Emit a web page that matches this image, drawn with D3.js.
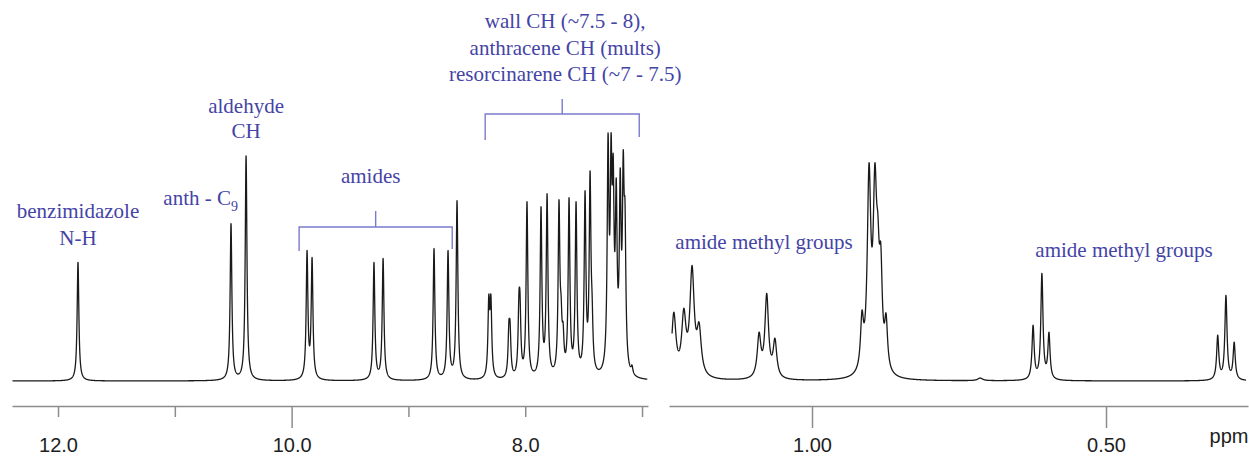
<!DOCTYPE html>
<html>
<head>
<meta charset="utf-8">
<script src="https://cdnjs.cloudflare.com/ajax/libs/d3/7.8.5/d3.min.js"></script>
<style>
  body { margin: 0; background: #fff; }
  svg { display: block; }
  .axis path, .axis line { stroke: #8c8c8c; stroke-width: 1.5; }
  .axis text { font-family: "Liberation Sans", Arial, sans-serif; font-size: 20px; fill: #1e1e1e; }
  .note { font-family: "Liberation Serif", "Times New Roman", serif; font-size: 21px; fill: #4444a6; }
  .bracket { fill: none; stroke: #7b7bcc; stroke-width: 1.4; }
  .spectrum { fill: none; stroke: #1a1a1a; stroke-width: 1.3; stroke-linejoin: round; }
</style>
</head>
<body>
<svg id="chart" width="1249" height="456"></svg>
<script>
// left window: NH / CHO / aromatic region (ppm, peak height in % of tallest line)
const LEFT_SHIFTS = [11.829, 10.519, 10.390, 9.868, 9.825, 9.295, 9.217, 8.781, 8.661, 8.584,
  8.312, 8.294, 8.140, 8.130, 8.054, 8.045, 7.985, 7.865, 7.813, 7.711, 7.693, 7.676,
  7.625, 7.565, 7.488, 7.445, 7.428, 7.291, 7.265, 7.247, 7.221, 7.187, 7.161, 7.146, 7.086];
const LEFT_HEIGHTS = [47.6, 63.2, 90.4, 52.4, 49.6, 47.6, 49.2, 53.2, 52.4, 72.4,
  34.8, 34.8, 24.0, 24.0, 35.6, 35.6, 72.0, 70.0, 75.2, 72.8, 34.4, 23.6,
  73.6, 72.0, 76.4, 84.4, 35.6, 99.6, 99.6, 91.2, 81.6, 85.6, 92.8, 72.4, 6.4];
const LEFT_LINEWIDTH = 0.0088;

// right window: methyl region
const RIGHT_SHIFTS = [1.235, 1.218, 1.204, 1.192, 1.090, 1.077, 1.063,
  0.915, 0.903, 0.893, 0.888, 0.883, 0.874, 0.714,
  0.624, 0.609, 0.597, 0.310, 0.296, 0.282];
const RIGHT_HEIGHTS = [27.6, 29.2, 46.4, 23.6, 19.6, 35.2, 17.2,
  28.4, 87.6, 87.6, 67.2, 55.2, 27.2, 1.2,
  22.4, 43.2, 19.6, 18.4, 34.4, 15.6];
const RIGHT_LINEWIDTHS = [0.0044, 0.0044, 0.0044, 0.0044, 0.0037, 0.0037, 0.0037,
  0.0030, 0.0036, 0.0036, 0.0030, 0.0030, 0.0030, 0.0050,
  0.0022, 0.0022, 0.0022, 0.0022, 0.0022, 0.0022];

const LEFT_TICKS = [12, 11, 10, 9, 8, 7];
const LEFT_TICK_LABELS = ["12.0", "", "10.0", "", "8.0", ""];
const RIGHT_TICKS = [1.0, 0.5];
const RIGHT_TICK_LABELS = ["1.00", "0.50"];

const AMIDE_RANGE = [9.936, 8.625];
const WALL_RANGE = [8.343, 7.024];

const NOTE_NH = ["benzimidazole", "N-H"];
const NOTE_CHO = ["aldehyde", "CH"];
const NOTE_ANTH = ["anth - C", "9"];
const NOTE_AMIDES = "amides";
const NOTE_WALL = ["wall CH (~7.5 - 8),", "anthracene CH (mults)", "resorcinarene CH (~7 - 7.5)"];
const NOTE_METHYL = "amide methyl groups";

/* global d3 */
const AXIS_Y = 406;
const BASE_Y = 381;
const $svg = d3.select('#chart');

const xLeft = d3.scaleLinear().domain([12.394, 6.949]).range([12, 648]);
const xRight = d3.scaleLinear().domain([1.2432, 0.2585]).range([669, 1248]);
const yInt = d3.scaleLinear().domain([0, 100]).range([BASE_Y, BASE_Y - 249]);

function lineShape(shifts, amps, widths, ppm) {
  let s = 0;
  for (let i = 0; i < shifts.length; i++) {
    const u = (ppm - shifts[i]) / widths[i];
    s += amps[i] / (1 + u * u);
  }
  return s;
}

// make the summed lorentzians reach the read-off peak tops
function fitAmps(shifts, heights, widths) {
  let amps = heights.slice();
  for (let it = 0; it < 80; it++) {
    amps = amps.map((a, i) =>
      Math.max(0, a + 0.6 * (heights[i] - lineShape(shifts, amps, widths, shifts[i]))));
  }
  return amps;
}

function sampleSpectrum(shifts, heights, widths, lo, hi, step) {
  const amps = fitAmps(shifts, heights, widths);
  const xs = d3.range(lo, hi, step)
    .concat(shifts.filter(s => s > lo && s < hi), [hi])
    .sort(d3.ascending);
  return xs.map(x => [x, lineShape(shifts, amps, widths, x)]);
}

function drawSpectrum(points, x) {
  const line = d3.line().x(d => x(d[0])).y(d => yInt(d[1]));
  $svg.append('path').attr('class', 'spectrum').attr('d', line(points));
}

function drawAxis(x, ticks, labels, size) {
  const axis = d3.axisBottom(x)
    .tickValues(ticks)
    .tickSize(size)
    .tickSizeOuter(0)
    .tickFormat((d, i) => labels[i]);
  const g = $svg.append('g')
    .attr('class', 'axis')
    .attr('transform', `translate(0,${AXIS_Y})`)
    .call(axis);
  g.selectAll('.tick text').attr('y', 46).attr('dy', 0);
  return g;
}

function noteLines(lines, x, y0, lh, anchor) {
  const t = $svg.append('text').attr('class', 'note').attr('text-anchor', anchor || 'middle');
  lines.forEach((s, i) => t.append('tspan').attr('x', x).attr('y', y0 + i * lh).text(s));
  return t;
}

function bracket(x, range, yBar, legs, yTop) {
  const a = x(range[0]), b = x(range[1]), m = (a + b) / 2;
  $svg.append('path').attr('class', 'bracket')
    .attr('d', `M${a},${yBar + legs[0]}V${yBar}H${b}V${yBar + legs[1]}M${m},${yBar}V${yTop}`);
  return m;
}

function draw() {
  const leftPts = sampleSpectrum(LEFT_SHIFTS, LEFT_HEIGHTS, LEFT_SHIFTS.map(() => LEFT_LINEWIDTH),
    6.955, 12.39, 0.0008);
  const rightPts = sampleSpectrum(RIGHT_SHIFTS, RIGHT_HEIGHTS, RIGHT_LINEWIDTHS,
    0.262, 1.238, 0.00015);
  drawSpectrum(leftPts, xLeft);
  drawSpectrum(rightPts, xRight);

  const gl = drawAxis(xLeft, LEFT_TICKS, LEFT_TICK_LABELS, 11);
  gl.selectAll('.tick line').filter(d => d === 10).attr('y2', 22);
  const gr = drawAxis(xRight, RIGHT_TICKS, RIGHT_TICK_LABELS, 22);
  gr.append('text')
    .attr('x', 1229).attr('y', 443 - AXIS_Y)
    .attr('text-anchor', 'middle')
    .text('ppm');

  // peak labels
  noteLines(NOTE_NH, xLeft(LEFT_SHIFTS[0]), 218, 27);
  noteLines(NOTE_CHO, xLeft(LEFT_SHIFTS[2]), 113, 25);
  const anth = $svg.append('text').attr('class', 'note')
    .attr('text-anchor', 'end')
    .attr('x', xLeft(LEFT_SHIFTS[1]) + 7).attr('y', 205);
  anth.append('tspan').text(NOTE_ANTH[0]);
  anth.append('tspan').attr('dy', 6).style('font-size', '14px').text(NOTE_ANTH[1]);

  const mA = bracket(xLeft, AMIDE_RANGE, 227, [24, 22], 211);
  noteLines([NOTE_AMIDES], mA - 5, 183, 0);
  const mW = bracket(xLeft, WALL_RANGE, 114, [26, 23], 99);
  noteLines(NOTE_WALL, mW + 3, 28, 26.5);

  noteLines([NOTE_METHYL], 764, 249, 0);
  noteLines([NOTE_METHYL], 1124, 257, 0);
}

draw();
</script>
</body>
</html>
